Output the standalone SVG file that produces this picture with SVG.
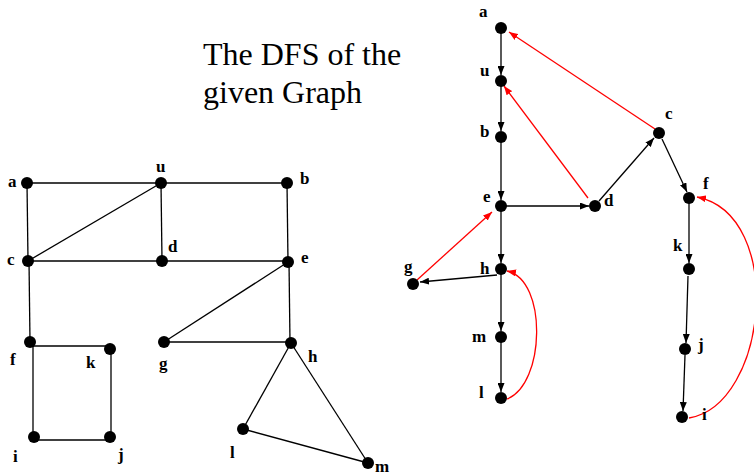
<svg xmlns="http://www.w3.org/2000/svg" width="754" height="475" viewBox="0 0 754 475">
<defs>
<marker id="ab" markerWidth="9" markerHeight="7" refX="9" refY="3.5" orient="auto" markerUnits="userSpaceOnUse"><path d="M0,0 L9,3.5 L0,7 z" fill="#000"/></marker>
<marker id="ar" markerWidth="9" markerHeight="7" refX="9" refY="3.5" orient="auto" markerUnits="userSpaceOnUse"><path d="M0,0 L9,3.5 L0,7 z" fill="#f00"/></marker>
</defs>
<style>
.e{stroke:#000;stroke-width:1.3;fill:none}
.t{stroke:#000;stroke-width:1.3;fill:none;marker-end:url(#ab)}
.r{stroke:#f00;stroke-width:1.3;fill:none;marker-end:url(#ar)}
.n{fill:#000}
.l{font-family:"Liberation Serif","Times New Roman",serif;font-weight:bold;font-size:17px;fill:#000}
.title{font-family:"Liberation Serif","Times New Roman",serif;font-size:32px;fill:#000}
</style>
<rect width="754" height="475" fill="#fff"/>
<text class="title" x="203" y="65">The DFS of the</text>
<text class="title" x="203" y="103">given Graph</text>
<g id="connectors">
<line class="e" x1="27" y1="183" x2="161" y2="183"/>
<line class="e" x1="161" y1="183" x2="287" y2="183"/>
<line class="e" x1="27" y1="183" x2="28" y2="261"/>
<line class="e" x1="28" y1="261" x2="161" y2="183"/>
<line class="e" x1="161" y1="183" x2="162" y2="261"/>
<line class="e" x1="287" y1="183" x2="288" y2="262"/>
<line class="e" x1="28" y1="261" x2="288" y2="261"/>
<line class="e" x1="29" y1="261" x2="30" y2="342"/>
<line class="e" x1="288" y1="262" x2="164" y2="342"/>
<line class="e" x1="289" y1="262" x2="290" y2="343"/>
<line class="e" x1="164" y1="342" x2="291" y2="342"/>
<line class="e" x1="30" y1="346" x2="110" y2="346"/>
<line class="e" x1="33" y1="342" x2="33" y2="437"/>
<line class="e" x1="111" y1="349" x2="111" y2="437"/>
<line class="e" x1="34" y1="440" x2="110" y2="440"/>
<line class="e" x1="291" y1="343" x2="243" y2="429"/>
<line class="e" x1="291" y1="343" x2="368" y2="463"/>
<line class="e" x1="243" y1="429" x2="368" y2="463"/>
<line class="t" x1="501" y1="28" x2="501" y2="75"/>
<line class="t" x1="501" y1="81" x2="501" y2="131"/>
<line class="t" x1="501" y1="137" x2="501" y2="200"/>
<line class="t" x1="501" y1="206" x2="589" y2="206"/>
<line class="t" x1="599" y1="201" x2="654" y2="138"/>
<line class="t" x1="662" y1="139" x2="687" y2="192"/>
<line class="t" x1="689" y1="198" x2="689" y2="263"/>
<line class="t" x1="688" y1="276" x2="686" y2="343"/>
<line class="t" x1="685" y1="355" x2="683" y2="411"/>
<line class="t" x1="501" y1="206" x2="501" y2="263"/>
<line class="t" x1="497" y1="275" x2="420" y2="282"/>
<line class="t" x1="501" y1="269" x2="501" y2="331"/>
<line class="t" x1="501" y1="337" x2="501" y2="392"/>
<line class="r" x1="655" y1="129" x2="509" y2="32"/>
<line class="r" x1="588" y1="198" x2="504" y2="86"/>
<line class="r" x1="417" y1="280" x2="492" y2="212"/>
<path class="r" d="M507,399 C545,385 548,280 507,271"/>
<path class="r" d="M689,418 C768,405 786,215 697,197"/>
</g>
<g id="left-graph">
<g id="la"><circle class="n" cx="27" cy="183" r="6"/><text class="l" x="8" y="187">a</text></g>
<g id="lu"><circle class="n" cx="161" cy="183" r="6"/><text class="l" x="156" y="172">u</text></g>
<g id="lb"><circle class="n" cx="287" cy="183" r="6"/><text class="l" x="300" y="184">b</text></g>
<g id="lc"><circle class="n" cx="28" cy="261" r="6"/><text class="l" x="7" y="265">c</text></g>
<g id="ld"><circle class="n" cx="162" cy="261" r="6"/><text class="l" x="168" y="252">d</text></g>
<g id="le"><circle class="n" cx="288" cy="262" r="6"/><text class="l" x="301" y="263">e</text></g>
<g id="lf"><circle class="n" cx="30" cy="342" r="6"/><text class="l" x="10" y="365">f</text></g>
<g id="lk"><circle class="n" cx="110" cy="349" r="6"/><text class="l" x="86" y="368">k</text></g>
<g id="lg"><circle class="n" cx="164" cy="342" r="6"/><text class="l" x="159" y="369">g</text></g>
<g id="lh"><circle class="n" cx="291" cy="343" r="6"/><text class="l" x="308" y="362">h</text></g>
<g id="li"><circle class="n" cx="34" cy="437" r="6"/><text class="l" x="13" y="462">i</text></g>
<g id="lj"><circle class="n" cx="110" cy="437" r="6"/><text class="l" x="118" y="460">j</text></g>
<g id="ll"><circle class="n" cx="243" cy="429" r="6"/><text class="l" x="230" y="458">l</text></g>
<g id="lm"><circle class="n" cx="368" cy="463" r="6"/><text class="l" x="375" y="472">m</text></g>
</g>
<g id="dfs-tree">
<g id="ra"><circle class="n" cx="501" cy="28" r="6"/><text class="l" x="479" y="17">a</text></g>
<g id="ru"><circle class="n" cx="501" cy="81" r="6"/><text class="l" x="480" y="76">u</text></g>
<g id="rb"><circle class="n" cx="501" cy="137" r="6"/><text class="l" x="480" y="137">b</text></g>
<g id="rc"><circle class="n" cx="659" cy="133" r="6"/><text class="l" x="665" y="119">c</text></g>
<g id="re"><circle class="n" cx="501" cy="206" r="6"/><text class="l" x="483" y="202">e</text></g>
<g id="rd"><circle class="n" cx="595" cy="206" r="6"/><text class="l" x="604" y="206">d</text></g>
<g id="rf"><circle class="n" cx="689" cy="198" r="6"/><text class="l" x="703" y="189">f</text></g>
<g id="rg"><circle class="n" cx="413" cy="284" r="6"/><text class="l" x="404" y="272">g</text></g>
<g id="rh"><circle class="n" cx="501" cy="269" r="6"/><text class="l" x="480" y="274">h</text></g>
<g id="rm"><circle class="n" cx="501" cy="337" r="6"/><text class="l" x="472" y="342">m</text></g>
<g id="rl"><circle class="n" cx="501" cy="398" r="6"/><text class="l" x="479" y="398">l</text></g>
<g id="rk"><circle class="n" cx="689" cy="269" r="6"/><text class="l" x="673" y="251">k</text></g>
<g id="rj"><circle class="n" cx="685" cy="349" r="6"/><text class="l" x="698" y="350">j</text></g>
<g id="ri"><circle class="n" cx="682" cy="417" r="6"/><text class="l" x="702" y="420">i</text></g>
</g>
</svg>
